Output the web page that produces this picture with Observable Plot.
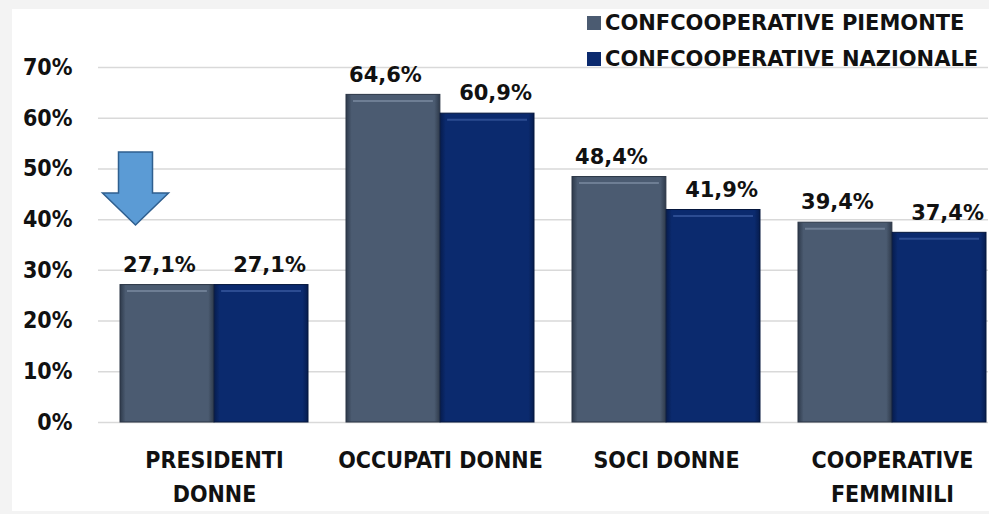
<!DOCTYPE html>
<html><head><meta charset="utf-8">
<script src="https://cdn.jsdelivr.net/npm/d3@7"></script>
<script src="https://cdn.jsdelivr.net/npm/@observablehq/plot@0.6"></script>
<style>
html,body{margin:0;padding:0;background:#f3f3f3;}
#wrap{position:relative;width:989px;height:514px;overflow:hidden;}
#panel{position:absolute;left:12px;top:9px;width:977px;height:502px;background:#fff;}
#chart{position:absolute;left:0;top:0;}
#legend{position:absolute;left:587px;top:5px;font-family:"DejaVu Sans",sans-serif;font-weight:bold;font-size:21px;color:#111;white-space:nowrap;}
.item{display:flex;align-items:center;height:36px;}
.sw{width:14px;height:14px;margin-right:4px;flex:none;}
</style></head>
<body>
<div id="wrap"><div id="panel"></div><div id="chart"></div><div id="legend"></div></div>
<script>
const categorie = ["PRESIDENTI DONNE", "OCCUPATI DONNE", "SOCI DONNE", "COOPERATIVE FEMMINILI"];
const etichetteCategorie = ["PRESIDENTI\nDONNE", "OCCUPATI DONNE", "SOCI DONNE", "COOPERATIVE\nFEMMINILI"];
const piemonte = [27.1, 64.6, 48.4, 39.4];
const nazionale = [27.1, 60.9, 41.9, 37.4];
const serie = ["CONFCOOPERATIVE PIEMONTE", "CONFCOOPERATIVE NAZIONALE"];
const yTicks = [0, 10, 20, 30, 40, 50, 60, 70];
const freccia = [{categoria: "PRESIDENTI DONNE", valore: 27.1}];

const colori = ["#4b5b71", "#0b2a6e"];
const W = 989, H = 514;
const x0 = 120, x1 = 987, padIn = 0.168;
const step = (x1 - x0) / (categorie.length - padIn);
const bw = step * (1 - padIn);

const data = categorie.map((c, i) => ({categoria: c, piemonte: piemonte[i], nazionale: nazionale[i]}));
const labelMap = new Map(categorie.map((c, i) => [c, etichetteCategorie[i]]));
const fmt = v => v.toFixed(1).replace(".", ",") + "%";

const arrowShape = {
  draw(ctx) {
    ctx.moveTo(0, 0);
    ctx.lineTo(-33, -32);
    ctx.lineTo(-17, -32);
    ctx.lineTo(-17, -73);
    ctx.lineTo(17, -73);
    ctx.lineTo(17, -32);
    ctx.lineTo(33, -32);
    ctx.closePath();
  }
};

const labelFont = {fontFamily: "'DejaVu Sans', sans-serif", fontSize: 21, fontWeight: "bold", fill: "#111"};

const svg = Plot.plot({
  width: W, height: H,
  marginLeft: 98, marginRight: 1, marginTop: 67, marginBottom: 92,
  style: {background: "transparent", fontFamily: "'DejaVu Sans Condensed', 'DejaVu Sans', sans-serif", fontWeight: "bold", fontSize: "23px", color: "#111", overflow: "visible"},
  x: {domain: categorie, range: [x0, x1], paddingInner: padIn, paddingOuter: 0, axis: null},
  y: {domain: [0, 70], axis: null},
  marks: [
    Plot.ruleY(yTicks, {stroke: "#d9d9d9", strokeWidth: 1.5}),
    Plot.barY(data, {x: "categoria", y: "piemonte", insetRight: bw / 2, fill: "url(#gP)", stroke: "#2a3545", strokeWidth: 1}),
    Plot.barY(data, {x: "categoria", y: "nazionale", insetLeft: bw / 2, fill: "url(#gN)", stroke: "#04163d", strokeWidth: 1}),
    Plot.tickY(data, {x: "categoria", y: "piemonte", insetLeft: 7, insetRight: bw / 2 + 7, dy: 6, stroke: "#6e7e94", strokeWidth: 2}),
    Plot.tickY(data, {x: "categoria", y: "nazionale", insetLeft: bw / 2 + 7, insetRight: 7, dy: 6, stroke: "#2c4c92", strokeWidth: 2}),
    Plot.axisY({ticks: yTicks, tickSize: 0, tickPadding: 26, tickFormat: d => d + "%", label: null}),
    Plot.axisX({tickSize: 0, tickPadding: 21, tickFormat: d => labelMap.get(d), lineHeight: 1.5, label: null}),
    Plot.text(data, {x: "categoria", y: "piemonte", text: d => fmt(d.piemonte), dx: -bw / 4 - 8, dy: -20, ...labelFont}),
    Plot.text(data, {x: "categoria", y: "nazionale", text: d => fmt(d.nazionale), dx: bw / 4 + 8, dy: -20, ...labelFont}),
    Plot.vector(freccia, {x: "categoria", y: "valore", shape: arrowShape, anchor: "start", dx: -79, dy: -60, fill: "#5b9bd5", stroke: "#2f5f8f", strokeWidth: 1.5, strokeLinejoin: "miter"})
  ]
});

const defs = document.createElementNS("http://www.w3.org/2000/svg", "defs");
defs.innerHTML = `
<linearGradient id="gP" x1="0" x2="1" y1="0" y2="0">
  <stop offset="0" stop-color="#2e3a4b"/><stop offset="0.06" stop-color="#4b5b71"/>
  <stop offset="0.94" stop-color="#4b5b71"/><stop offset="1" stop-color="#2e3a4b"/>
</linearGradient>
<linearGradient id="gN" x1="0" x2="1" y1="0" y2="0">
  <stop offset="0" stop-color="#061c4e"/><stop offset="0.06" stop-color="#0b2a6e"/>
  <stop offset="0.94" stop-color="#0b2a6e"/><stop offset="1" stop-color="#061c4e"/>
</linearGradient>`;
svg.prepend(defs);
document.getElementById("chart").appendChild(svg);

const legend = document.getElementById("legend");
serie.forEach((s, i) => {
  const row = document.createElement("div");
  row.className = "item";
  const sw = document.createElement("span");
  sw.className = "sw";
  sw.style.background = colori[i];
  const t = document.createElement("span");
  t.textContent = s;
  row.appendChild(sw); row.appendChild(t);
  legend.appendChild(row);
});
</script>
</body></html>
